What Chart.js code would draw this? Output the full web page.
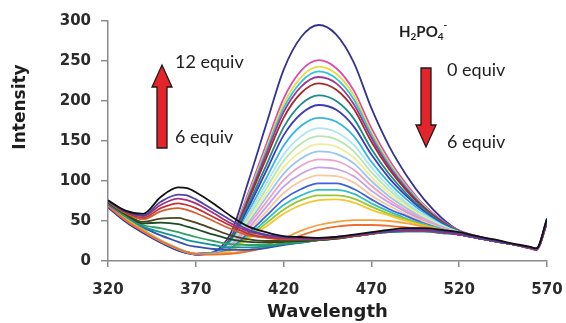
<!DOCTYPE html>
<html><head><meta charset="utf-8">
<script src="https://cdn.jsdelivr.net/npm/chart.js@4.4.1/dist/chart.umd.min.js"></script>
<style>html,body{margin:0;padding:0;background:#fff}#wrap{width:566px;height:323px}</style>
</head><body><div id="wrap"><canvas id="c" width="566" height="323"></canvas></div>
<script>
const wavelengths = [320,330,340,350,360,365,370,380,390,400,410,420,430,440,450,460,470,480,490,500,510,520,530,540,550,560,564,570];
const xTicks = [320,370,420,470,520,570];
const yTicks = [0,50,100,150,200,250,300];

// 0 -> 6 equiv (emission at ~438 nm decreasing)
const sNavy       = [67,49,35,23,13,10,8, 11,35,100,170,239,280,295,283,248,191,144,107,77,54,38, 31,26,21,16,14,48];
const sMagenta    = [70,52,38,25,15,11,9, 10,31,86,145,203,238,251,241,213,166,127,96,70,51,38, 31,26,21,17,15,52];
const sYellow     = [69,51,37,25,15,11,9, 10,30,83,140,196,230,243,234,207,161,123,93,69,50,37, 30,25,21,17,15,50];
const sCyan       = [71,53,39,26,16,11,9, 10,30,81,137,191,224,237,228,202,158,121,92,68,50,37, 30,25,21,17,15,53];
const sViolet     = [70,52,38,25,15,11,9, 10,29,79,133,186,218,230,222,196,154,118,90,67,50,37, 30,25,21,16,15,49];
const sDarkRed    = [71,53,38,25,15,11,9, 10,28,76,128,179,210,222,214,190,149,115,88,66,49,37, 30,25,21,16,14,47];
const sTeal       = [70,52,38,25,15,11,9, 10,27,71,119,167,196,207,200,178,140,109,84,64,48,37, 30,25,21,17,15,51];
const sBlue       = [68,50,36,24,14,10,8, 10,25,67,112,157,184,195,189,168,133,104,81,62,47,36, 30,25,21,17,15,50];
const sSkyBlue    = [70,52,38,25,15,11,9, 10,24,62,103,144,169,179,174,156,124,98,77,60,46,36, 30,25,21,17,15,52];
const sLightTurq  = [71,53,39,26,16,11,9, 9,22,58,96,133,156,166,161,145,117,93,73,58,45,36, 29,25,21,17,15,50];
const sLightGreen = [70,52,38,25,15,11,9, 9,21,54,90,125,147,156,152,137,111,89,71,56,44,36, 29,25,21,17,15,49];
const sLightYel   = [70,52,38,25,15,11,9, 9,20,51,84,117,137,146,143,129,105,85,68,55,44,35, 29,25,21,17,15,50];
const sPaleBlue   = [71,53,38,25,15,11,9, 9,20,48,79,109,128,137,134,122,100,81,66,53,43,35, 29,25,21,17,15,51];
const sRose       = [70,52,38,25,15,11,9, 9,19,45,73,101,119,127,125,114,94,77,63,52,42,35, 29,25,21,17,15,50];
const sLavender   = [70,52,38,25,15,11,9, 9,18,41,67,93,109,117,115,106,88,73,61,50,42,35, 29,25,21,17,15,49];
const sTan        = [71,53,39,26,15,11,9, 9,17,38,61,85,100,107,106,98,82,69,58,49,41,35, 29,25,21,17,15,50];
const sLightBlue  = [69,51,37,24,14,10,8, 9,16,35,56,77,90,97,97,90,77,65,56,47,40,35, 29,25,21,17,15,52];
const sAqua       = [70,52,38,25,15,11,9, 9,15,32,51,70,82,89,89,84,72,62,53,46,40,34, 29,25,21,17,15,50];
const sLime       = [71,53,39,25,15,11,9, 9,14,30,47,64,76,82,82,78,68,59,52,45,39,34, 29,25,21,17,15,51];
const sGold       = [70,52,38,25,15,11,9, 9,13,28,43,59,70,76,77,73,64,57,50,44,39,34, 29,25,21,17,15,50];
const sLtOrange   = [70,52,38,25,15,11,9, 9,10,14,20,28,38,45,49,51,51,50,47,43,39,35, 30,25,21,17,15,50];
const sOrange     = [69,51,37,25,15,11,9, 8,9,12,17,24,32,39,43,45,45,44,42,40,37,34, 29,25,21,17,15,49];
// 6 -> 12 equiv (emission at ~365 nm increasing)
const rBlue       = [71,56,42,32,24,20,18, 15,14,14,16,20,23,26,28,31,34,36,37,37,35,33, 29,25,21,17,15,50];
const rTeal       = [72,56,43,36,30,26,24, 20,17,17,18,21,23,26,28,31,34,36,37,37,35,33, 29,25,21,17,15,49];
const rSeaGreen   = [73,57,45,41,36,33,30, 25,21,20,20,22,24,26,28,31,34,37,38,38,36,33, 29,25,21,17,15,51];
const rDarkGreen  = [73,58,47,48,46,43,40, 33,27,24,23,24,25,26,28,31,34,37,38,38,36,33, 29,25,21,17,15,50];
const rOlive      = [74,59,49,53,54,51,48, 40,32,27,25,25,26,27,29,31,34,37,38,38,36,33, 29,25,21,17,15,48];
const rOrangeRed  = [74,60,52,62,66,64,60, 50,40,32,29,27,27,27,29,31,34,37,38,38,36,33, 29,25,21,17,15,50];
const rRed        = [75,61,54,66,72,70,66, 55,44,34,30,28,28,27,29,31,34,37,38,38,36,33, 29,25,21,17,15,49];
const rPlum       = [75,62,56,70,78,76,72, 60,47,37,32,29,28,28,30,32,35,37,38,38,36,33, 29,25,21,17,15,51];
const rPurple     = [75,62,57,74,83,82,77, 64,51,39,33,30,29,28,30,32,35,37,39,39,37,34, 29,25,21,17,15,50];
const rBlack      = [76,63,59,80,92,91,86, 72,56,43,36,31,30,29,30,33,36,39,41,41,39,36, 31,27,22,18,16,53];

const seriesList = [
  [sNavy,'#34348e'],[sMagenta,'#e04aae'],[sYellow,'#e6dc3c'],[sCyan,'#2ec6d6'],
  [sViolet,'#9a3a96'],[sDarkRed,'#a52a2a'],[sTeal,'#1a8c8a'],[sBlue,'#3c3cb4'],
  [sSkyBlue,'#34b6e6'],[sLightTurq,'#aee6f0'],[sLightGreen,'#b6e6ae'],[sLightYel,'#f0ec9c'],
  [sPaleBlue,'#98c6ee'],[sRose,'#eea0c8'],[sLavender,'#c6a0e6'],[sTan,'#f6c8a0'],
  [sLightBlue,'#3c62de'],[sAqua,'#32c0c0'],[sLime,'#98c634'],[sGold,'#f4c62e'],
  [sLtOrange,'#f6a040'],[sOrange,'#ee7030'],
  [rBlue,'#3450b0'],[rTeal,'#149494'],[rSeaGreen,'#30a064'],[rDarkGreen,'#1e4a26'],
  [rOlive,'#45451e'],[rOrangeRed,'#d2602e'],[rRed,'#c23232'],[rPlum,'#a23282'],
  [rPurple,'#5242a4'],[rBlack,'#111111']
];
const N = seriesList.length;
const datasets = seriesList.map(([vals,col],i)=>({
  data: wavelengths.map((w,k)=>({x:w,y:vals[k]})),
  borderColor: col, backgroundColor: col, borderWidth: 1.8,
  pointRadius: 0, fill: false, cubicInterpolationMode: 'monotone',
  order: N-1-i
}));

const TXT = '#1e1e1e';
const annot = {
  id:'annot',
  afterDraw(chart){
    const c = chart.ctx;
    c.save();
    c.fillStyle = TXT;
    c.font = 'bold 17px "DejaVu Sans"';
    c.translate(21,107); c.rotate(-Math.PI/2);
    c.textAlign='center'; c.textBaseline='middle';
    c.fillText('Intensity',0,0);
    c.setTransform(1,0,0,1,0,0);
    function arrow(cx, y0, y1, dir){
      const sw=5, hw=10, hl=22;
      const yb = y1 - dir*hl;
      c.beginPath();
      c.moveTo(cx-sw,y0); c.lineTo(cx-sw,yb); c.lineTo(cx-hw,yb);
      c.lineTo(cx,y1); c.lineTo(cx+hw,yb); c.lineTo(cx+sw,yb); c.lineTo(cx+sw,y0);
      c.closePath();
      c.fillStyle='#e3242b'; c.fill();
      c.lineWidth=1.3; c.strokeStyle='#1a1a1a'; c.stroke();
    }
    arrow(162,148,65,-1);
    arrow(426,68,147,1);
    c.fillStyle = TXT;
    c.font = '18px Lato';
    c.textAlign='left'; c.textBaseline='middle';
    c.fillText('12 equiv',175,62);
    c.fillText('6 equiv',175,137);
    c.fillText('0 equiv',447,70);
    c.fillText('6 equiv',447,142);
    c.textBaseline='alphabetic';
    let x=399; const yb=37;
    const big='bold 15px Lato', small='bold 10px Lato';
    function put(t,f,dy){ c.font=f; c.fillText(t,x,yb+dy); x+=c.measureText(t).width; }
    put('H',big,0); put('2',small,3); put('PO',big,0); put('4',small,3);
    c.font=small; c.fillText('-',x,yb-9);
    c.restore();
  }
};

new Chart(document.getElementById('c'),{
  type:'line',
  data:{datasets},
  options:{
    responsive:false, animation:false,
    layout:{padding:{left:0,right:19,top:21,bottom:0}},
    plugins:{legend:{display:false},tooltip:{enabled:false}},
    scales:{
      x:{type:'linear',min:320,max:570,
        afterBuildTicks(s){ s.ticks = xTicks.map(v=>({value:v})); },
        afterFit(s){ s.height = 62; s.paddingLeft = 0; s.paddingRight = 0; },
        ticks:{color:'#2a2a2a',font:{family:'DejaVu Sans',weight:'bold',size:15},padding:14,maxRotation:0},
        grid:{drawOnChartArea:false,drawTicks:true,tickLength:6,color:'#8a8a8a',lineWidth:1.5},
        border:{display:true,color:'#8a8a8a',width:1.5},
        title:{display:true,text:'Wavelength',color:TXT,font:{family:'DejaVu Sans',weight:'bold',size:18},padding:{top:0,bottom:0}}
      },
      y:{min:0,max:300,
        afterBuildTicks(s){ s.ticks = yTicks.map(v=>({value:v})); },
        afterFit(s){ s.width = 108; s.paddingTop = 0; s.paddingBottom = 0; },
        ticks:{color:'#2a2a2a',font:{family:'DejaVu Sans',weight:'bold',size:15},padding:10},
        grid:{drawOnChartArea:false,drawTicks:true,tickLength:7,color:'#8a8a8a',lineWidth:1.5},
        border:{display:true,color:'#8a8a8a',width:1.5}
      }
    }
  },
  plugins:[annot]
});
</script></body></html>
